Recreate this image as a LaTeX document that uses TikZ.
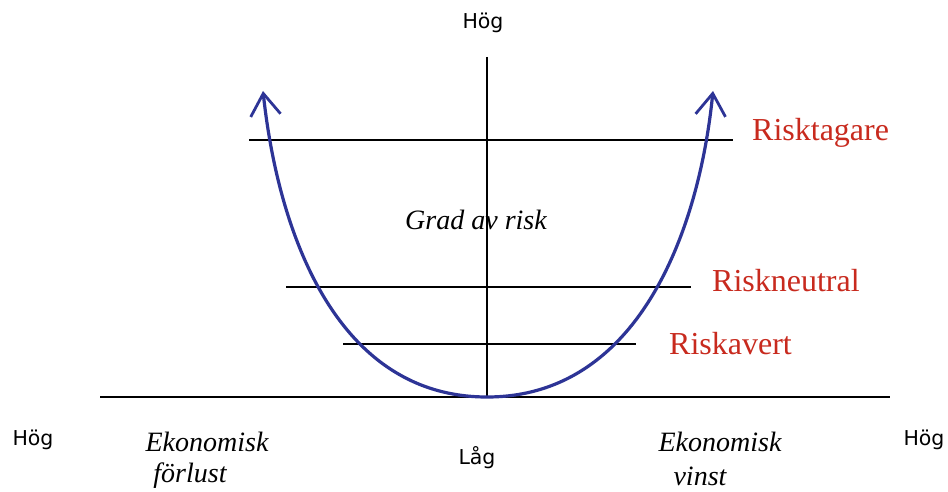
\documentclass[tikz,border=0pt]{standalone}
\usepackage{fontspec}
\setmainfont{Liberation Serif}
\newfontfamily\labsans{DejaVu Sans}
\usetikzlibrary{arrows.meta}
\definecolor{curveblue}{RGB}{45,52,150}
\definecolor{labred}{RGB}{200,42,30}
\tikzset{
  axisline/.style={draw=black,line width=1.4pt},
  riskcurve/.style={draw=curveblue,line width=3.2pt,-{Straight Barb[length=22pt,width=30pt,line width=2.8pt]}},
  sanslab/.style={font=\labsans\fontsize{20.5}{24}\selectfont,inner sep=0pt},
  redlab/.style={font=\fontsize{32}{36}\selectfont,text=labred,inner sep=0pt,anchor=west},
  itlab/.style={font=\itshape\fontsize{28}{32}\selectfont,inner sep=0pt,align=center}
}
\begin{document}
\begin{tikzpicture}[x=1pt,y=-1pt]
\useasboundingbox[fill=white] (0,0) rectangle (948,492);
% axes
\coordinate (vtop) at (487,57);
\coordinate (vbot) at (487,397);
\coordinate (hl) at (100,397);
\coordinate (hr) at (890,397);
\draw[axisline] (vtop) -- (vbot);
\draw[axisline] (hl) -- (hr);
% risk levels
\coordinate (t1) at (249,140); \coordinate (t2) at (733,140);
\coordinate (n1) at (286,287); \coordinate (n2) at (691,287);
\coordinate (a1) at (343,344); \coordinate (a2) at (636,344);
\draw[axisline] (t1) -- (t2);
\draw[axisline] (n1) -- (n2);
\draw[axisline] (a1) -- (a2);
% curve
\coordinate (tipL) at (263,91);
\coordinate (tipR) at (713,91);
\draw[riskcurve] (vbot) .. controls (335,397) and (278,230) .. (tipL);
\draw[riskcurve] (vbot) .. controls (639,397) and (699,230) .. (tipR);
% labels
\node[sanslab] (hogtop) at (483,23) {Hög};
\node[sanslab] (hogleft) at (33,440) {Hög};
\node[sanslab] (hogright) at (924,440) {Hög};
\node[sanslab] (lag) at (477,458) {Låg};
\node[redlab] (rt) at (752,133) {Risktagare};
\node[redlab] (rn) at (712,281) {Riskneutral};
\node[redlab] (ra) at (669,344) {Riskavert};
\node[itlab] (grad) at (476,220) {Grad av risk};
\node[itlab] (ekf) at (207,442) {Ekonomisk};
\node[itlab] (forl) at (190,476) {förlust};
\node[itlab] (ekv) at (720,442) {Ekonomisk};
\node[itlab] (vinst) at (700,476) {vinst};
\end{tikzpicture}
\end{document}
